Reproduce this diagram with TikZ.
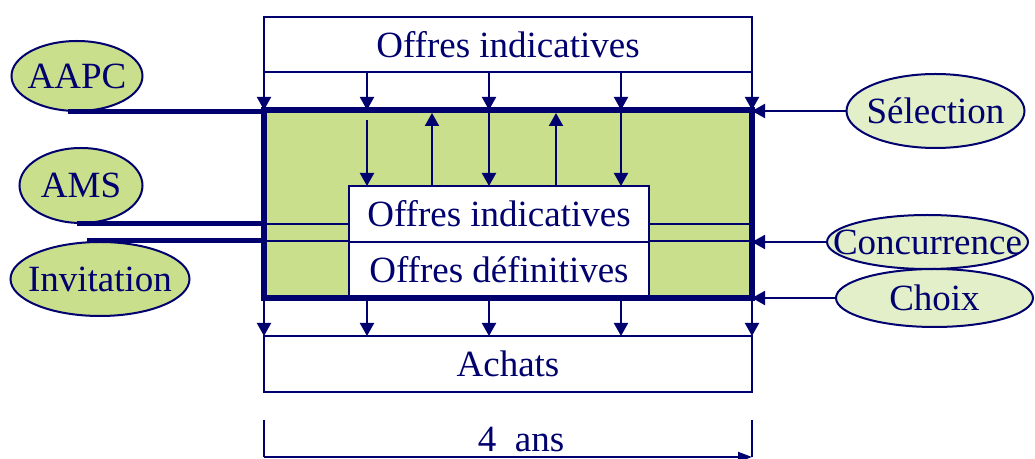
\documentclass[tikz,border=0pt]{standalone}
\usepackage{fontspec}
\setmainfont{Liberation Serif}
\usetikzlibrary{arrows.meta,shapes.geometric}
\definecolor{navy}{RGB}{0,0,110}
\definecolor{leaf}{RGB}{201,223,139}
\definecolor{paleleaf}{RGB}{226,239,200}
\newcommand{\ovaltext}[1]{\makebox[0pt]{#1}}
\tikzset{
band/.style={
draw=navy,
line width=1pt,
fill=white,
minimum width=244pt,
minimum height=27.5pt,
inner sep=0pt,
outer sep=0pt,
text=navy
},
phase/.style={
band,
minimum width=150pt,
minimum height=28pt
},
zone/.style={
fill=leaf,
minimum width=244pt,
minimum height=94pt,
inner sep=0pt,
outer sep=0pt
},
source/.style={
ellipse,
draw=navy,
line width=1pt,
fill=leaf,
inner sep=0pt,
text=navy
},
filter/.style={
source,
fill=paleleaf
},
arrow/.style={
-{Triangle[length=6.5pt,width=7pt]},
draw=navy,
line width=1pt
},
feed/.style={
draw=navy,
line width=2.5pt
},
link/.style={
draw=navy,
line width=1pt
}
}
\begin{document}
\begin{tikzpicture}[x=0.5pt,y=-0.5pt,font=\fontsize{18.5}{22}\selectfont]
\useasboundingbox (0,0) rectangle (1035,459);
\node[band](offers) at (508,44.5){Offres indicatives};
\node[zone](period) at (508,204){};
\node[band,minimum height=28pt](buys) at (508,364){Achats};

\node[source,minimum width=65.5pt,minimum height=35pt](aapc) at (77,76){\ovaltext{AAPC}};
\node[source,minimum width=61.5pt,minimum height=37.5pt](ams) at (81,185.5){\ovaltext{AMS}};
\node[source,minimum width=89.5pt,minimum height=37pt](invit) at (100,279){\ovaltext{Invitation}};
\node[filter,minimum width=89pt,minimum height=37pt](select) at (935.5,111){\ovaltext{Sélection}};
\node[filter,minimum width=100.5pt,minimum height=27pt](compet) at (927.5,242){\ovaltext{Concurrence}};
\node[filter,minimum width=98.5pt,minimum height=29pt](choice) at (934.5,298){\ovaltext{Choix}};

% entrees a gauche
\draw[feed]([xshift=-4.5pt]aapc.south)--(aapc.south -| period.west);
\draw[feed]([xshift=-2pt]ams.south)--(ams.south -| period.west);
\draw[link](ams.south -| period.west)--(ams.south -| period.east);
\draw[feed]([xshift=-6.5pt]invit.north)--(invit.north -| period.west);
\draw[link](invit.north -| period.west)--(invit.north -| period.east);

\node[phase](firstbids) at (499,214){Offres indicatives};
\node[phase](finalbids) at (499,270){Offres définitives};
\draw[navy,line width=3pt](period.south west) rectangle (period.north east);

\foreach \x in {264,367,489,621,752}{
\draw[arrow](\x,0 |- offers.south)--(\x,0 |- period.north);
\draw[arrow](\x,0 |- period.south)--(\x,0 |- buys.north);
}
\foreach \x/\s in {367/5,489/0,621/0}
\draw[arrow,shorten <=\s pt](\x,0 |- period.north)--(\x,0 |- firstbids.north);
\foreach \x in {432,556}
\draw[arrow,shorten >=1.5pt](\x,0 |- firstbids.north)--(\x,0 |- period.north);

% filtres a droite
\foreach \f in {select,compet,choice}
\draw[arrow](\f.west)--(\f.west -| period.east);

% duree
\coordinate (spanl) at (264,457);
\coordinate (spanr) at (752,457);
\draw[link]([yshift=18.5pt]spanl)--(spanl);
\draw[link]([yshift=18.5pt]spanr)--(spanr);
\draw[link,-{Triangle[length=7pt,width=5pt]}](spanl)--(spanr);
\node[text=navy,anchor=base](length) at (521,452){4\ \ ans};
\end{tikzpicture}
\end{document}
